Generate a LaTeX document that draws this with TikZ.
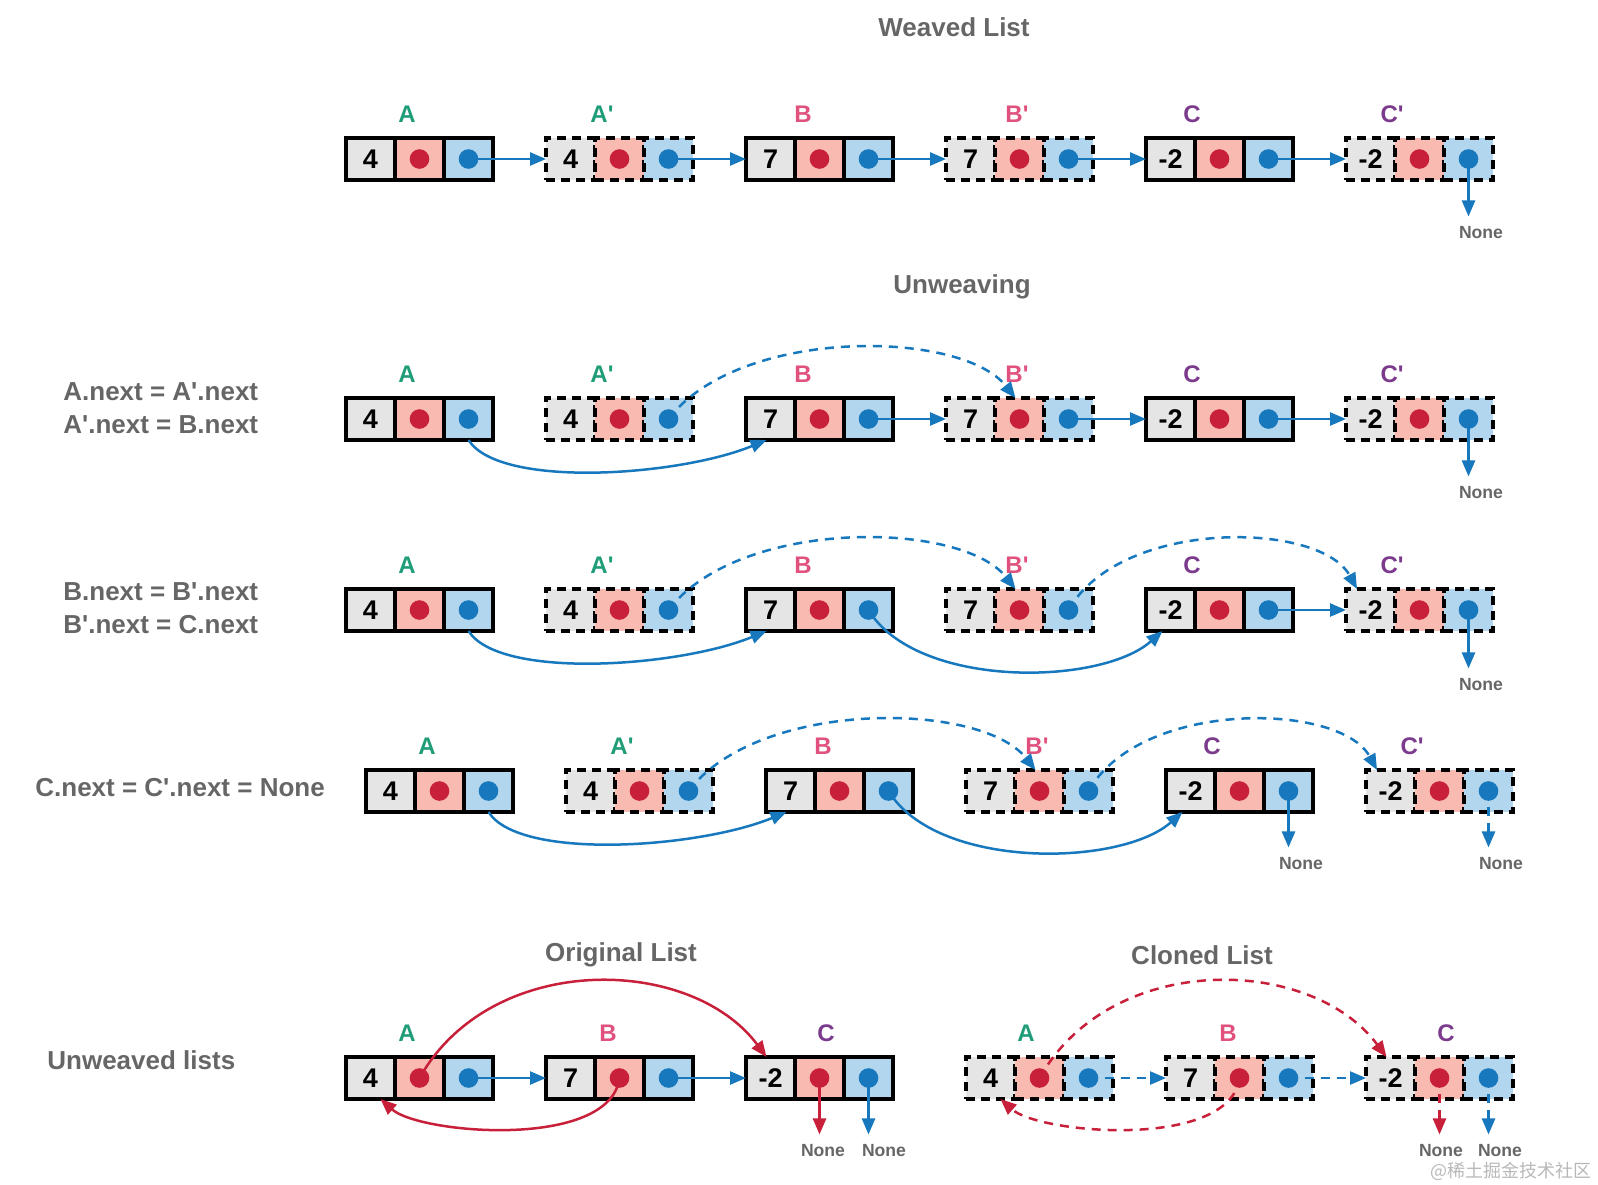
\documentclass[tikz,border=0pt]{standalone}
\usepackage{fontspec}
\setmainfont{Liberation Sans}[Ligatures=TeXOff]
\newfontfamily\cjk{Noto Sans CJK SC}
\usetikzlibrary{arrows.meta, positioning}

\definecolor{valgray}{HTML}{E5E5E5}
\definecolor{nxtpink}{HTML}{F9BAB1}
\definecolor{nxtblue}{HTML}{B2D6EE}
\definecolor{randred}{HTML}{C8203A}
\definecolor{nextblue}{HTML}{1778BE}
\definecolor{labA}{HTML}{1F9C78}
\definecolor{labB}{HTML}{E0527D}
\definecolor{labC}{HTML}{7B3A8C}
\definecolor{txtgray}{HTML}{666666}

% one list node: value cell, random cell, next cell, and its name above
% #1 name, #2 left x, #3 mid y, #4 value, #5 cell style, #6 label, #7 label colour, #8 label x offset
\newcommand{\listnode}[8]{%
  \node[#5, fill=valgray, anchor=west] (#1v) at (#2,#3) {#4};
  \node[#5, fill=nxtpink, right=0pt of #1v] (#1r) {};
  \node[#5, fill=nxtblue, right=0pt of #1r] (#1n) {};
  \node[rdot] (#1rd) at (#1r) {};
  \node[bdot] (#1nd) at (#1n) {};
  \node[lbl, text=#7] (#1l) at (#2+#8,#3-45) {#6};
}

\begin{document}
\begin{tikzpicture}[x=0.5pt, y=-0.5pt, >={Triangle[length=8pt,width=6.5pt]},
    cell/.style={draw=black, line width=1.8pt, minimum width=24.5pt, minimum height=21pt,
      inner sep=0pt, outer sep=0pt, font=\fontsize{13.5}{15}\selectfont\bfseries},
    dcell/.style={cell, dash pattern=on 4.5pt off 3pt},
    rdot/.style={circle, fill=randred, minimum size=9.8pt, inner sep=0pt},
    bdot/.style={circle, fill=nextblue, minimum size=9.8pt, inner sep=0pt},
    lbl/.style={font=\fontsize{12}{14}\selectfont\bfseries},
    headtext/.style={text=txtgray, font=\fontsize{13}{16}\selectfont\bfseries},
    eqtext/.style={text=txtgray, font=\fontsize{13}{16.5}\selectfont\bfseries, anchor=west, align=left, inner sep=0pt},
    nonetext/.style={text=txtgray, font=\fontsize{8.8}{10}\selectfont\bfseries, inner sep=3pt},
    nptr/.style={->, nextblue, line width=1.25pt},
    dnptr/.style={nptr, dash pattern=on 4.5pt off 3.5pt},
    rptr/.style={->, randred, line width=1.25pt},
    drptr/.style={rptr, dash pattern=on 4.5pt off 3.5pt}]
  \useasboundingbox (0,0) rectangle (1598,1184);

  % weaved list
  \node[headtext] (t1) at (954,27) {Weaved List};
  \listnode{r1A}{346}{159}{4}{cell}{A}{labA}{61}
  \listnode{r1Ap}{546}{159}{4}{dcell}{A'}{labA}{56}
  \listnode{r1B}{746}{159}{7}{cell}{B}{labB}{57}
  \listnode{r1Bp}{946}{159}{7}{dcell}{B'}{labB}{71}
  \listnode{r1C}{1146}{159}{-2}{cell}{C}{labC}{46}
  \listnode{r1Cp}{1346}{159}{-2}{dcell}{C'}{labC}{46}
  \node[nonetext] (r1none) at (1481,233) {None};
  \draw[nptr] (r1And.center) -- (r1Apv.west);
  \draw[nptr] (r1Apnd.center) -- (r1Bv.west);
  \draw[nptr] (r1Bnd.center) -- (r1Bpv.west);
  \draw[nptr] (r1Bpnd.center) -- (r1Cv.west);
  \draw[nptr] (r1Cnd.center) -- (r1Cpv.west);
  \draw[nptr, shorten >=2pt] (r1Cpnd.center) -- (r1Cpnd.center |- r1none.north);

  % unweaving, step 1
  \node[headtext] (t2) at (962,287) {Unweaving};
  \node[eqtext] (e2) at (63,408) {A.next = A'.next\\A'.next = B.next};
  \listnode{r2A}{346}{419}{4}{cell}{A}{labA}{61}
  \listnode{r2Ap}{546}{419}{4}{dcell}{A'}{labA}{56}
  \listnode{r2B}{746}{419}{7}{cell}{B}{labB}{57}
  \listnode{r2Bp}{946}{419}{7}{dcell}{B'}{labB}{71}
  \listnode{r2C}{1146}{419}{-2}{cell}{C}{labC}{46}
  \listnode{r2Cp}{1346}{419}{-2}{dcell}{C'}{labC}{46}
  \node[nonetext] (r2none) at (1481,493) {None};
  \draw[nptr] (r2An.south) .. controls +(31,49) and +(-87,36) .. ([xshift=-2pt]r2Bv.south);
  \draw[dnptr] (r2Apnd.center) .. controls +(70,-92) and +(-55,-69) .. ([xshift=-2pt]r2Bpr.north);
  \draw[nptr] (r2Bnd.center) -- (r2Bpv.west);
  \draw[nptr] (r2Bpnd.center) -- (r2Cv.west);
  \draw[nptr] (r2Cnd.center) -- (r2Cpv.west);
  \draw[nptr, shorten >=2pt] (r2Cpnd.center) -- (r2Cpnd.center |- r2none.north);

  % unweaving, step 2
  \node[eqtext] (e3) at (63,608) {B.next = B'.next\\B'.next = C.next};
  \listnode{r3A}{346}{610}{4}{cell}{A}{labA}{61}
  \listnode{r3Ap}{546}{610}{4}{dcell}{A'}{labA}{56}
  \listnode{r3B}{746}{610}{7}{cell}{B}{labB}{57}
  \listnode{r3Bp}{946}{610}{7}{dcell}{B'}{labB}{71}
  \listnode{r3C}{1146}{610}{-2}{cell}{C}{labC}{46}
  \listnode{r3Cp}{1346}{610}{-2}{dcell}{C'}{labC}{46}
  \node[nonetext] (r3none) at (1481,685) {None};
  \draw[nptr] (r3An.south) .. controls +(31,49) and +(-87,36) .. ([xshift=-2pt]r3Bv.south);
  \draw[nptr] (r3Bnd.center) .. controls +(48,79) and +(-62,55) .. ([xshift=-4pt]r3Cv.south);
  \draw[dnptr] (r3Apnd.center) .. controls +(70,-92) and +(-55,-69) .. ([xshift=-2pt]r3Bpr.north);
  \draw[dnptr] (r3Bpnd.center) .. controls +(52,-92) and +(-37,-68) .. ([xshift=5.5pt]r3Cpv.north west);
  \draw[nptr] (r3Cnd.center) -- (r3Cpv.west);
  \draw[nptr, shorten >=2pt] (r3Cpnd.center) -- (r3Cpnd.center |- r3none.north);

  % unweaving, step 3
  \node[eqtext] (e4) at (35,788) {C.next = C'.next = None};
  \listnode{r4A}{366}{791}{4}{cell}{A}{labA}{61}
  \listnode{r4Ap}{566}{791}{4}{dcell}{A'}{labA}{56}
  \listnode{r4B}{766}{791}{7}{cell}{B}{labB}{57}
  \listnode{r4Bp}{966}{791}{7}{dcell}{B'}{labB}{71}
  \listnode{r4C}{1166}{791}{-2}{cell}{C}{labC}{46}
  \listnode{r4Cp}{1366}{791}{-2}{dcell}{C'}{labC}{46}
  \node[nonetext] (r4none) at (1301,864) {None};
  \node[nonetext] (r4pnone) at (1501,864) {None};
  \draw[nptr] (r4An.south) .. controls +(31,49) and +(-87,36) .. ([xshift=-2pt]r4Bv.south);
  \draw[nptr] (r4Bnd.center) .. controls +(48,79) and +(-62,55) .. ([xshift=-4pt]r4Cv.south);
  \draw[dnptr] (r4Apnd.center) .. controls +(70,-92) and +(-55,-69) .. ([xshift=-2pt]r4Bpr.north);
  \draw[dnptr] (r4Bpnd.center) .. controls +(52,-92) and +(-37,-68) .. ([xshift=5.5pt]r4Cpv.north west);
  \draw[nptr, shorten >=2pt] (r4Cnd.center) -- (r4Cnd.center |- r4none.north);
  \draw[dnptr, shorten >=2pt] (r4Cpnd.center) -- (r4Cpnd.center |- r4pnone.north);

  % the two lists apart
  \node[headtext] (t5) at (621,955) {Original List};
  \node[headtext] (t6) at (1202,955) {Cloned List};
  \node[eqtext] (e5) at (47,1060) {Unweaved lists};
  \listnode{oA}{346}{1078}{4}{cell}{A}{labA}{61}
  \listnode{oB}{546}{1078}{7}{cell}{B}{labB}{62}
  \listnode{oC}{746}{1078}{-2}{cell}{C}{labC}{80}
  \listnode{kA}{966}{1078}{4}{dcell}{A}{labA}{60}
  \listnode{kB}{1166}{1078}{7}{dcell}{B}{labB}{62}
  \listnode{kC}{1366}{1078}{-2}{dcell}{C}{labC}{80}
  \node[nonetext] (oCnone1) at (823,1151) {None};
  \node[nonetext] (oCnone2) at (884,1151) {None};
  \node[nonetext] (kCnone1) at (1441,1151) {None};
  \node[nonetext] (kCnone2) at (1500,1151) {None};

  \draw[nptr] (oAnd.center) -- (oBv.west);
  \draw[nptr] (oBnd.center) -- (oCv.west);
  \draw[rptr] (oArd.center) .. controls +(71.5,-127) and +(-76,-102) .. ([xshift=-2pt]oCv.north);
  \draw[rptr] (oBrd.center) .. controls +(-9.5,72) and +(39,35) .. ([xshift=5pt]oAv.south);
  \draw[rptr, shorten >=2pt] (oCrd.center) -- (oCrd.center |- oCnone1.north);
  \draw[nptr, shorten >=2pt] (oCnd.center) -- (oCnd.center |- oCnone2.north);

  \draw[dnptr] (kAnd.center) -- (kBv.west);
  \draw[dnptr] (kBnd.center) -- (kCv.west);
  \draw[drptr] (kArd.center) .. controls +(71.5,-127) and +(-76,-102) .. ([xshift=-2pt]kCv.north);
  \draw[drptr] (kBrd.center) .. controls +(-9.5,72) and +(39,35) .. ([xshift=5pt]kAv.south);
  \draw[drptr, shorten >=2pt] (kCrd.center) -- (kCrd.center |- kCnone1.north);
  \draw[dnptr, shorten >=2pt] (kCnd.center) -- (kCnd.center |- kCnone2.north);

  \node[anchor=east, text=black!28, font=\cjk\fontsize{9}{10}\selectfont, inner sep=1pt] (wm) at (1594,1171) {@稀土掘金技术社区};
\end{tikzpicture}
\end{document}
